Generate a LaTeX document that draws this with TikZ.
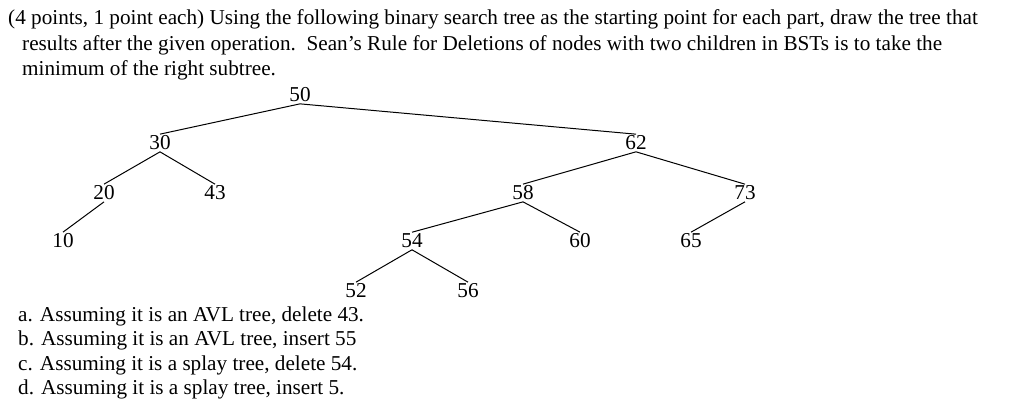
\documentclass[tikz,border=0pt]{standalone}
\usepackage{fontspec}
\setmainfont{Liberation Serif}
\begin{document}
\begin{tikzpicture}[x=1pt,y=-1pt,
  txt/.style={anchor=west,inner sep=0pt,font=\fontsize{21.2}{24}\selectfont},
  nd/.style={inner sep=1.5pt,font=\fontsize{21.2}{24}\selectfont},
  edge/.style={line width=1pt}]
\useasboundingbox (0,0) rectangle (1024,415);
\node[txt] (l1) at (8,19) {(4 points, 1 point each) Using the following binary search tree as the starting point for each part, draw the tree that};
\node[txt] (l2) at (22,45) {results after the given operation.\ \ Sean’s Rule for Deletions of nodes with two children in BSTs is to take the};
\node[txt] (l3) at (22,70) {minimum of the right subtree.};
\node[nd] (n50) at (300,95) {50};
\node[nd] (n30) at (160,143) {30};
\node[nd] (n62) at (636,143) {62};
\node[nd] (n20) at (104,193) {20};
\node[nd] (n43) at (215,193) {43};
\node[nd] (n58) at (523,193) {58};
\node[nd] (n73) at (745,193) {73};
\node[nd] (n10) at (63,241) {10};
\node[nd] (n54) at (412,241) {54};
\node[nd] (n60) at (580,241) {60};
\node[nd] (n65) at (691,241) {65};
\node[nd] (n52) at (356,291) {52};
\node[nd] (n56) at (468,291) {56};
\draw[edge] (n50.south) -- (n30.north);
\draw[edge] (n50.south) -- (n62.north);
\draw[edge] (n30.south) -- (n20.north);
\draw[edge] (n30.south) -- (n43.north);
\draw[edge] (n62.south) -- (n58.north);
\draw[edge] (n62.south) -- (n73.north);
\draw[edge] (n20.south) -- (n10.north);
\draw[edge] (n58.south) -- (n54.north);
\draw[edge] (n58.south) -- (n60.north);
\draw[edge] (n73.south) -- (n65.north);
\draw[edge] (n54.south) -- (n52.north);
\draw[edge] (n54.south) -- (n56.north);
\node[txt] (qa) at (18,316) {a. Assuming it is an AVL tree, delete 43.};
\node[txt] (qb) at (18,340) {b. Assuming it is an AVL tree, insert 55};
\node[txt] (qc) at (18,365) {c. Assuming it is a splay tree, delete 54.};
\node[txt] (qd) at (18,389) {d. Assuming it is a splay tree, insert 5.};
\end{tikzpicture}
\end{document}
